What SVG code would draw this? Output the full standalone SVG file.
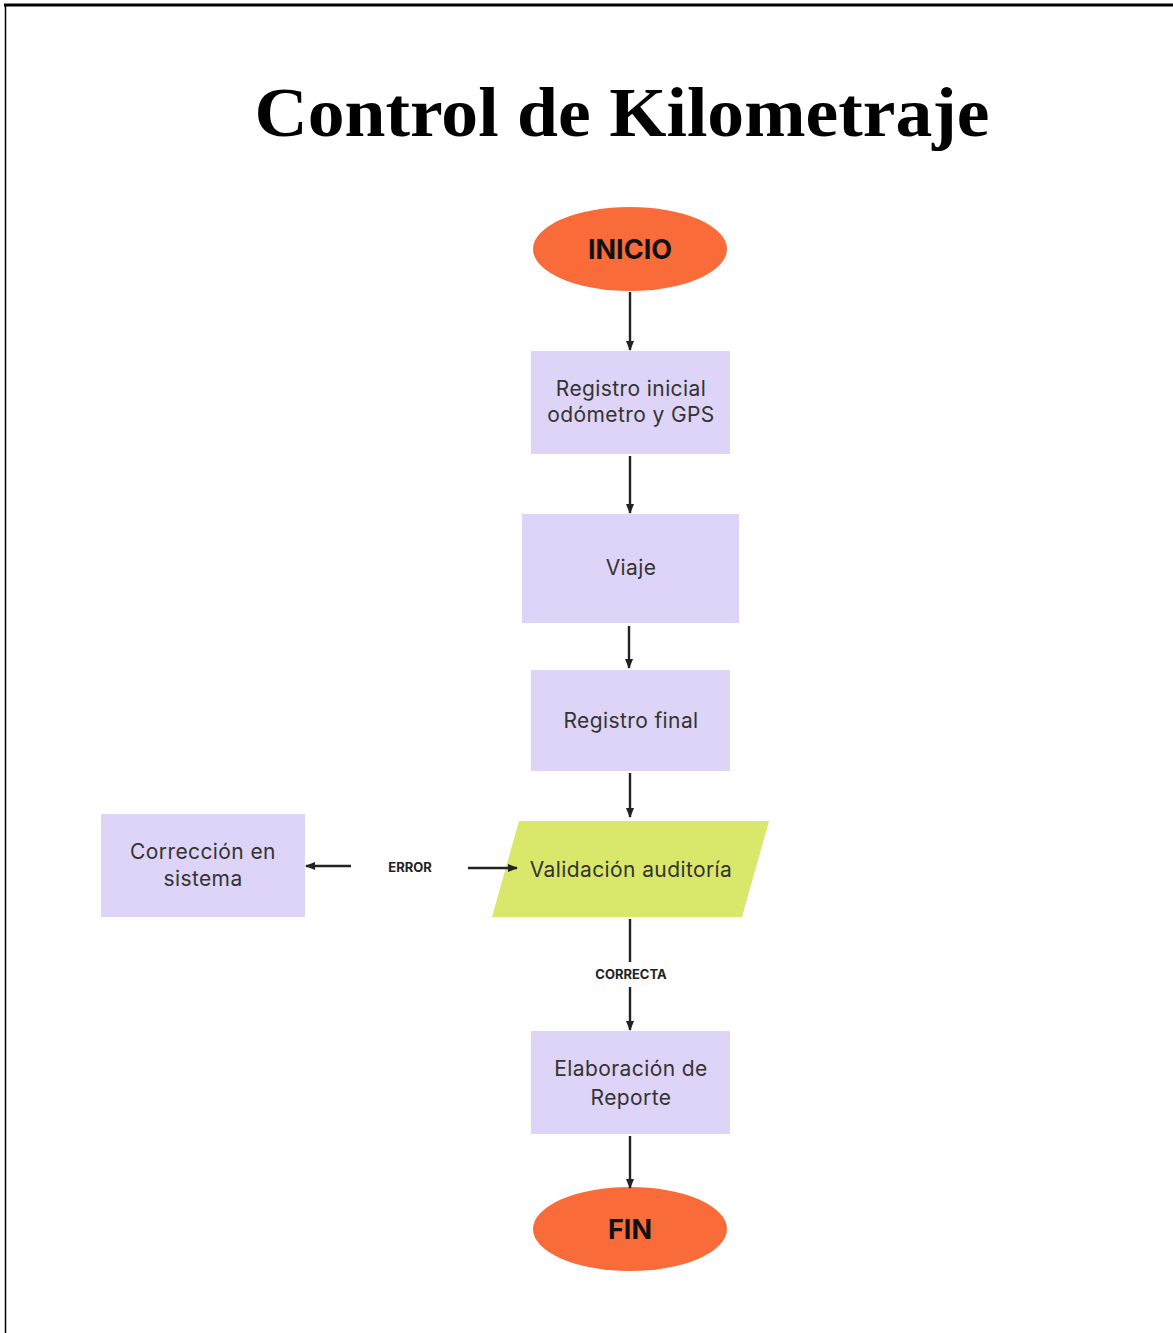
<svg xmlns="http://www.w3.org/2000/svg" width="1173" height="1333" viewBox="0 0 1173 1333">
<defs>
<marker id="ah" viewBox="0 0 10 10" refX="9" refY="5" markerWidth="10" markerHeight="10" markerUnits="userSpaceOnUse" orient="auto">
<path d="M0,1 L10,5 L0,9 Z" fill="#222"/>
</marker>
<style>
.box{fill:#ded4f7}
.term{fill:#f96c3a}
.lbl{font-family:"Inter","Liberation Sans",sans-serif;font-size:21px;letter-spacing:0.4px;fill:#333;text-anchor:middle}
.term-t{font-family:"Inter","Liberation Sans",sans-serif;font-size:27px;font-weight:bold;fill:#111;text-anchor:middle}
.small{font-family:"Inter","Liberation Sans",sans-serif;font-size:13px;font-weight:bold;fill:#222;text-anchor:middle}
.ln{stroke:#222;stroke-width:2.4;fill:none}
</style>
</defs>
<rect width="1173" height="1333" fill="#fff"/>
<line x1="4" y1="5" x2="1173" y2="5" stroke="#000" stroke-width="3"/>
<line x1="5.5" y1="4" x2="5.5" y2="1333" stroke="#000" stroke-width="1.5"/>
<text x="622" y="136" font-family="Liberation Serif, serif" font-size="70" font-weight="bold" fill="#000" text-anchor="middle" textLength="735" lengthAdjust="spacingAndGlyphs">Control de Kilometraje</text>

<g id="inicio"><ellipse class="term" cx="630" cy="249" rx="97" ry="42"/><text class="term-t" x="630" y="259">INICIO</text></g>
<g id="registro-inicial"><rect class="box" x="531" y="351" width="199" height="103"/><text class="lbl" x="631" y="396">Registro inicial</text><text class="lbl" x="631" y="422">odómetro y GPS</text></g>
<g id="viaje"><rect class="box" x="522" y="514" width="217" height="109"/><text class="lbl" x="631" y="575">Viaje</text></g>
<g id="registro-final"><rect class="box" x="531" y="670" width="199" height="101"/><text class="lbl" x="631" y="728">Registro final</text></g>
<g id="validacion"><polygon points="519,821 769,821 742,917 492,917" fill="#d9e86a"/><text class="lbl" x="631" y="877">Validación auditoría</text></g>
<g id="correccion"><rect class="box" x="101" y="814" width="204" height="103"/><text class="lbl" x="203" y="859">Corrección en</text><text class="lbl" x="203" y="886">sistema</text></g>
<g id="elaboracion"><rect class="box" x="531" y="1031" width="199" height="103"/><text class="lbl" x="631" y="1076">Elaboración de</text><text class="lbl" x="631" y="1105">Reporte</text></g>
<g id="fin"><ellipse class="term" cx="630" cy="1229" rx="97" ry="42"/><text class="term-t" x="630" y="1239">FIN</text></g>

<g id="connectors">
<line class="ln" x1="630" y1="292" x2="630" y2="350" marker-end="url(#ah)"/>
<line class="ln" x1="630" y1="456" x2="630" y2="513" marker-end="url(#ah)"/>
<line class="ln" x1="629" y1="626" x2="629" y2="668" marker-end="url(#ah)"/>
<line class="ln" x1="630" y1="773" x2="630" y2="817" marker-end="url(#ah)"/>
<line class="ln" x1="468" y1="868" x2="517" y2="868" marker-end="url(#ah)"/>
<line class="ln" x1="351" y1="866" x2="306" y2="866" marker-end="url(#ah)"/>
<text class="small" x="410" y="872">ERROR</text>
<line class="ln" x1="630" y1="919" x2="630" y2="962"/>
<text class="small" x="631" y="979">CORRECTA</text>
<line class="ln" x1="630" y1="987" x2="630" y2="1030" marker-end="url(#ah)"/>
<line class="ln" x1="630" y1="1136" x2="630" y2="1188" marker-end="url(#ah)"/>
</g>
</svg>
